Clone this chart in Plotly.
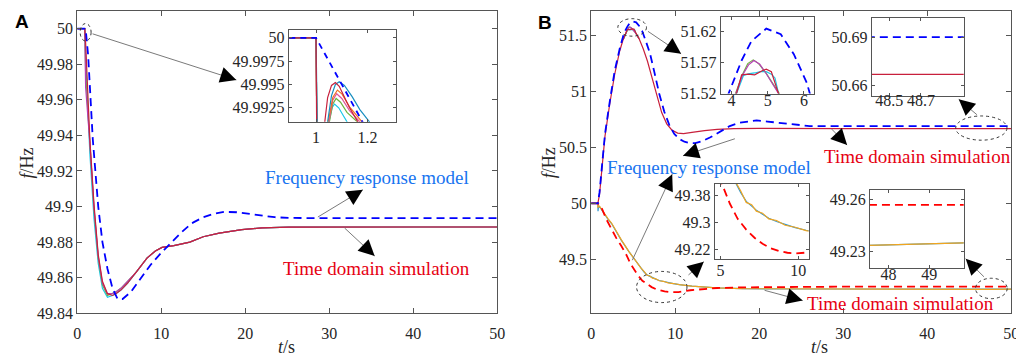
import plotly.graph_objects as go

# ===================== DATA =====================
# ---- Panel A: main plot (t in s, f in Hz) ----
tA = [0, 0.9, 1.0, 1.5, 2.0, 2.5, 3.0, 3.6, 4.2, 4.6, 5.2, 6.0, 7.0, 8.3, 9.3, 10.1,
      11.5, 13.4, 15.0, 16.9, 19.6, 22.0, 25.2, 30, 40, 50]
fA_red = [50, 50, 49.992, 49.938, 49.901, 49.873, 49.858, 49.851, 49.850, 49.851, 49.853, 49.857,
          49.863, 49.871, 49.875, 49.877, 49.878, 49.880, 49.883, 49.885, 49.887, 49.888, 49.8884,
          49.8885, 49.8885, 49.8885]
fA_cyan = [50, 50, 49.985, 49.930, 49.893, 49.868, 49.854, 49.849, 49.850, 49.851, 49.853, 49.857,
           49.863, 49.871, 49.875, 49.877, 49.878, 49.880, 49.883, 49.885, 49.887, 49.888, 49.8884,
           49.8885, 49.8885, 49.8885]
fA_green = [50, 50, 49.975, 49.935, 49.898, 49.871, 49.856, 49.850, 49.851, 49.852, 49.854, 49.858,
            49.863, 49.871, 49.875, 49.877, 49.878, 49.880, 49.883, 49.885, 49.887, 49.888, 49.8884,
            49.8885, 49.8885, 49.8885]
fA_magenta = [50, 50, 49.967, 49.936, 49.899, 49.872, 49.857, 49.851, 49.851, 49.852, 49.854, 49.858,
              49.863, 49.871, 49.875, 49.877, 49.878, 49.880, 49.883, 49.885, 49.887, 49.888, 49.8884,
              49.8885, 49.8885, 49.8885]
tA_frm = [0, 1.0, 1.3, 1.85, 2.5, 3.0, 3.6, 4.2, 4.8, 5.4, 6.4, 7.5, 8.7, 10.0, 11.2, 12.4, 13.6,
          15.0, 16.3, 17.5, 19.0, 20.5, 22.0, 23.5, 25.2, 28, 50]
fA_frm = [50, 50, 49.985, 49.938, 49.900, 49.880, 49.865, 49.854, 49.848, 49.848, 49.852, 49.859,
          49.867, 49.874, 49.880, 49.8855, 49.8905, 49.894, 49.896, 49.897, 49.8968, 49.896,
          49.8948, 49.894, 49.8936, 49.8935, 49.8935]

# ---- Panel A: inset detail around t = 1 s ----
tAi_red = [0.85, 1.0, 1.003, 1.02, 1.034, 1.045, 1.06, 1.075, 1.09, 1.11, 1.13, 1.162, 1.18]
fAi_red = [50, 50, 49.988, 49.986, 49.991, 49.9936, 49.9949, 49.9952, 49.9948, 49.9937, 49.9925, 49.991, 49.9895]
tAi_teal = [0.85, 1.0, 1.006, 1.03, 1.045, 1.06, 1.075, 1.09, 1.11, 1.14, 1.17, 1.207, 1.22]
fAi_teal = [50, 50, 49.988, 49.986, 49.991, 49.9938, 49.9950, 49.9953, 49.9949, 49.9937, 49.9923, 49.991, 49.9898]
tAi_orange = [0.85, 1.0, 1.004, 1.03, 1.047, 1.065, 1.083, 1.10, 1.13, 1.155, 1.178, 1.19]
fAi_orange = [50, 50, 49.988, 49.986, 49.991, 49.9936, 49.9944, 49.9940, 49.9926, 49.9917, 49.991, 49.990]
tAi_magenta = [0.85, 1.0, 1.004, 1.03, 1.05, 1.065, 1.08, 1.10, 1.13, 1.17, 1.18]
fAi_magenta = [50, 50, 49.988, 49.986, 49.991, 49.9933, 49.9940, 49.9935, 49.9922, 49.991, 49.990]
tAi_green = [0.85, 1.0, 1.004, 1.03, 1.052, 1.065, 1.078, 1.095, 1.12, 1.16, 1.17]
fAi_green = [50, 50, 49.988, 49.986, 49.991, 49.9929, 49.9935, 49.9931, 49.9920, 49.991, 49.990]
tAi_cyan = [0.85, 1.0, 1.004, 1.03, 1.05, 1.062, 1.072, 1.088, 1.105, 1.12, 1.13]
fAi_cyan = [50, 50, 49.988, 49.986, 49.991, 49.9925, 49.9929, 49.9925, 49.9917, 49.991, 49.990]

# ---- Panel B: over-frequency case ----
tB_up = [0, 0.8, 1.0, 1.3, 1.65, 2.2, 2.8, 3.4, 3.8, 4.14, 4.28, 4.46, 4.64, 4.86, 4.96, 5.1, 5.27,
         5.33, 5.7, 6.2, 6.7, 7.2, 7.8, 8.4, 9.0, 9.6, 10.3, 11.0, 12.0, 13.5, 15.0, 17.0, 20.0,
         25.0, 30.0, 50.0]
fB_up_red = [50, 50, 50.08, 50.33, 50.6, 50.88, 51.15, 51.36, 51.46, 51.52, 51.55, 51.551, 51.55,
             51.557, 51.559, 51.555, 51.531, 51.52, 51.47, 51.38, 51.27, 51.14, 50.97, 50.81, 50.71,
             50.655, 50.627, 50.622, 50.633, 50.650, 50.660, 50.667, 50.670, 50.668, 50.667, 50.667]
tB_up_green = [3.8, 4.11, 4.3, 4.45, 4.6, 4.75, 4.95, 5.15, 5.32, 5.7]
fB_up_green = [51.46, 51.52, 51.55, 51.568, 51.574, 51.568, 51.553, 51.535, 51.52, 51.47]
tB_up_magenta = [3.8, 4.12, 4.3, 4.47, 4.62, 4.78, 4.97, 5.16, 5.3, 5.7]
fB_up_magenta = [51.46, 51.52, 51.549, 51.566, 51.573, 51.567, 51.551, 51.533, 51.52, 51.47]
tB_up_cyan = [3.8, 4.14, 4.33, 4.5, 4.64, 4.8, 4.96, 5.1, 5.2, 5.3, 5.7]
fB_up_cyan = [51.46, 51.52, 51.549, 51.552, 51.553, 51.555, 51.555, 51.551, 51.545, 51.52, 51.47]
tB_up_frm = [0, 0.8, 1.0, 1.3, 1.65, 2.2, 2.8, 3.4, 3.92, 4.28, 4.55, 4.96, 5.36, 5.72, 6.08, 6.5,
             7.0, 7.5, 8.1, 8.7, 9.3, 9.9, 10.5, 11.1, 11.8, 12.4, 13.2, 14.2, 15.3, 16.5, 17.7,
             18.9, 19.7, 21.0, 22.8, 24.5, 26.0, 30.0, 50.0]
fB_up_frm = [50, 50, 50.1, 50.35, 50.62, 50.9, 51.18, 51.38, 51.52, 51.573, 51.604, 51.624, 51.615,
             51.583, 51.537, 51.45, 51.34, 51.18, 50.98, 50.82, 50.70, 50.62, 50.575, 50.55, 50.538,
             50.537, 50.555, 50.59, 50.64, 50.69, 50.72, 50.735, 50.74, 50.73, 50.715, 50.70, 50.69,
             50.69, 50.69]

# ---- Panel B: under-frequency case ----
tB_lo_frm = [0, 0.8, 1.0, 1.3, 1.8, 2.4, 3.0, 3.6, 4.2, 4.69, 5.1, 5.6, 6.1, 6.65, 7.2, 7.7, 8.2,
             8.75, 9.3, 9.8, 10.4, 11.8, 13.5, 15, 18, 22, 30, 50]
fB_lo_frm = [50, 50, 49.985, 49.95, 49.86, 49.77, 49.69, 49.62, 49.54, 49.46, 49.41, 49.355,
             49.31, 49.278, 49.253, 49.236, 49.223, 49.214, 49.209, 49.207, 49.209, 49.225, 49.238,
             49.245, 49.251, 49.255, 49.257, 49.257]
tB_lo = [0, 0.8, 0.82, 0.86, 1.0, 1.5, 2.0, 2.43, 3.0, 3.6, 4.5, 5.2, 5.94, 6.3, 6.65, 7.0, 7.3,
         7.7, 8.1, 8.6, 9.15, 9.8, 10.5, 12, 14.9, 18, 25, 35, 47.5, 50]
fB_lo_cyan = [50, 50, 49.93, 49.96, 49.97, 49.91, 49.86, 49.82, 49.745, 49.67, 49.57, 49.495, 49.42,
              49.388, 49.362, 49.348, 49.336, 49.324, 49.312, 49.302, 49.293, 49.284, 49.276, 49.262,
              49.246, 49.239, 49.236, 49.235, 49.2337, 49.2352]
fB_lo_orange = [50, 50, 49.96, 49.98, 49.975, 49.915, 49.865, 49.825, 49.75, 49.675, 49.57, 49.495,
                49.422, 49.393, 49.359, 49.352, 49.333, 49.327, 49.310, 49.305, 49.291, 49.285, 49.275,
                49.262, 49.246, 49.239, 49.236, 49.235, 49.2337, 49.2352]

# ---- tick values / labels ----
A_xticks = [0, 10, 20, 30, 40, 50]
A_xlabels = ["0", "10", "20", "30", "40", "50"]
A_yticks = [49.84, 49.86, 49.88, 49.9, 49.92, 49.94, 49.96, 49.98, 50]
A_ylabels = ["49.84", "49.86", "49.88", "49.9", "49.92", "49.94", "49.96", "49.98", "50"]
Ai_xticks = [1, 1.2]
Ai_xlabels = ["1", "1.2"]
Ai_yticks = [49.9925, 49.995, 49.9975, 50]
Ai_ylabels = ["49.9925", "49.995", "49.9975", "50"]
B_xticks = [0, 10, 20, 30, 40, 50]
B_xlabels = ["0", "10", "20", "30", "40", "50"]
B_yticks = [49.5, 50, 50.5, 51, 51.5]
B_ylabels = ["49.5", "50", "50.5", "51", "51.5"]
B1_xticks, B1_xlabels = [4, 5, 6], ["4", "5", "6"]
B1_yticks, B1_ylabels = [51.52, 51.57, 51.62], ["51.52", "51.57", "51.62"]
B2_xticks, B2_xlabels = [48.5, 48.7], ["48.5", "48.7"]
B2_yticks, B2_ylabels = [50.66, 50.69], ["50.66", "50.69"]
B3_xticks, B3_xlabels = [5, 10], ["5", "10"]
B3_yticks, B3_ylabels = [49.22, 49.3, 49.38], ["49.22", "49.3", "49.38"]
B4_xticks, B4_xlabels = [48, 49], ["48", "49"]
B4_yticks, B4_ylabels = [49.23, 49.26], ["49.23", "49.26"]

# ===================== STYLE / LAYOUT =====================
W, H = 1024, 357
SERIF = "Liberation Serif"
C_RED = "#C8203C"
C_BLUE = "#0000FF"
C_RED_D = "#FF0000"
C_ORANGE = "#F2A51E"
C_CYANL = "#2E96D0"
C_CYAN = "#19C8E8"
C_TEAL = "#1A8FC0"
C_GREEN = "#6DB33F"
C_MAG = "#B63FB6"
C_ORG2 = "#F07020"
TXT_BLUE = "#1874F0"
TXT_RED = "#E60012"
AXC = "#555555"
DASH = "8px,5px"

# subplot geometry in pixels: (left, right, top, bottom), ranges, x-label standoff
GEOM = {
    "A":  dict(px=(66, 491, 2, 313), xr=(0, 50), yr=(49.84, 50.01), so=6),
    "Ai": dict(px=(280, 389, 22, 116), xr=(0.894, 1.312), yr=(49.991, 50.0008), so=1),
    "B":  dict(px=(586, 1011, 2, 313), xr=(0, 50), yr=(49.02, 51.717), so=6),
    "B1": dict(px=(717, 812, 8, 87), xr=(3.7, 6.29), yr=(51.52, 51.643), so=-8),
    "B2": dict(px=(870, 963, 9, 89), xr=(48.39, 48.97), yr=(50.654, 50.702), so=-10),
    "B3": dict(px=(711, 806, 180, 257), xr=(4.62, 10.66), yr=(49.191, 49.414), so=-3),
    "B4": dict(px=(868, 963, 186, 266), xr=(47.54, 49.85), yr=(49.221, 49.2656), so=-8),
}
AXID = {"A": ("x", "y"), "Ai": ("x2", "y2"), "B": ("x3", "y3"), "B1": ("x4", "y4"),
        "B2": ("x5", "y5"), "B3": ("x6", "y6"), "B4": ("x7", "y7")}
TICKS = {
    "A": (A_xticks, A_xlabels, A_yticks, A_ylabels),
    "Ai": (Ai_xticks, Ai_xlabels, Ai_yticks, Ai_ylabels),
    "B": (B_xticks, B_xlabels, B_yticks, B_ylabels),
    "B1": (B1_xticks, B1_xlabels, B1_yticks, B1_ylabels),
    "B2": (B2_xticks, B2_xlabels, B2_yticks, B2_ylabels),
    "B3": (B3_xticks, B3_xlabels, B3_yticks, B3_ylabels),
    "B4": (B4_xticks, B4_xlabels, B4_yticks, B4_ylabels),
}

fig = go.Figure()


def add_line(key, x, y, color, width=1.2, dash=None):
    xa, ya = AXID[key]
    fig.add_trace(go.Scatter(x=x, y=y, mode="lines", xaxis=xa, yaxis=ya, showlegend=False,
                             hoverinfo="skip",
                             line=dict(color=color, width=width, dash=dash)))


# Panel A main
add_line("A", tA, fA_cyan, C_CYAN)
add_line("A", tA, fA_green, C_GREEN)
add_line("A", tA, fA_magenta, C_MAG)
add_line("A", tA, fA_red, C_RED)
add_line("A", tA_frm, fA_frm, C_BLUE, 1.8, DASH)
# Panel A inset
add_line("Ai", tAi_cyan, fAi_cyan, C_CYAN)
add_line("Ai", tAi_green, fAi_green, C_GREEN)
add_line("Ai", tAi_magenta, fAi_magenta, "#E0559A")
add_line("Ai", tAi_orange, fAi_orange, C_ORG2)
add_line("Ai", tAi_teal, fAi_teal, C_TEAL)
add_line("Ai", tAi_red, fAi_red, C_RED)
add_line("Ai", tA_frm, fA_frm, C_BLUE, 1.8, "6px,5px")

# Panel B main + insets
for key in ["B", "B1", "B2", "B3", "B4"]:
    add_line(key, tB_lo, fB_lo_cyan, C_CYANL)
    add_line(key, tB_lo, fB_lo_orange, C_ORANGE)
    add_line(key, tB_lo_frm, fB_lo_frm, C_RED_D, 1.8, DASH)
    add_line(key, tB_up_cyan, fB_up_cyan, C_CYAN)
    add_line(key, tB_up_green, fB_up_green, C_GREEN)
    add_line(key, tB_up_magenta, fB_up_magenta, C_MAG)
    add_line(key, tB_up, fB_up_red, C_RED)
    add_line(key, tB_up_frm, fB_up_frm, C_BLUE, 1.8, DASH)

layout = dict(width=W, height=H, margin=dict(l=0, r=0, t=0, b=0),
              paper_bgcolor="white", plot_bgcolor="white", showlegend=False,
              font=dict(family=SERIF),
              annotations=[], shapes=[])

for key, g in GEOM.items():
    L, R, T, B = g["px"]
    xa, ya = AXID[key]
    xt, xl, yt, yl = TICKS[key]
    main = key in ("A", "B")
    common = dict(showline=True, linecolor=AXC, linewidth=1, mirror="ticks", ticks="inside",
                  ticklen=5 if main else 3, tickcolor=AXC, showgrid=False, zeroline=False,
                  tickfont=dict(family=SERIF, size=16, color="#262626"), fixedrange=True)
    xname = "xaxis" if xa == "x" else "xaxis" + xa[1:]
    yname = "yaxis" if ya == "y" else "yaxis" + ya[1:]
    layout[xname] = dict(common, domain=[L / W, R / W], range=list(g["xr"]), anchor=ya,
                         tickmode="array", tickvals=xt, ticktext=xl, ticklabelstandoff=g["so"])
    layout[yname] = dict(common, domain=[1 - B / H, 1 - T / H], range=list(g["yr"]), anchor=xa,
                         tickmode="array", tickvals=yt, ticktext=yl)


def to_px(key, x, y):
    g = GEOM[key]
    L, R, T, B = g["px"]
    x0, x1 = g["xr"]
    y0, y1 = g["yr"]
    return L + (x - x0) / (x1 - x0) * (R - L), B - (y - y0) / (y1 - y0) * (B - T)


def arrow(key, start, tip):
    xa, ya = AXID[key]
    layout["annotations"].append(dict(
        x=tip[0], y=tip[1], ax=start[0], ay=start[1], xref=xa, yref=ya, axref=xa, ayref=ya,
        text="", showarrow=True, arrowhead=0, arrowwidth=1, arrowcolor="#7a7a7a"))
    sx, sy = to_px(key, *start)
    tx, ty = to_px(key, *tip)
    dx, dy = sx - tx, sy - ty
    n = (dx * dx + dy * dy) ** 0.5
    layout["annotations"].append(dict(
        x=tip[0], y=tip[1], ax=dx / n * 11, ay=dy / n * 11, xref=xa, yref=ya,
        text="", showarrow=True, arrowhead=2, arrowsize=3.2, arrowwidth=1, arrowcolor="black",
        standoff=0))


def ellipse(key, x0, x1, y0, y1):
    xa, ya = AXID[key]
    layout["shapes"].append(dict(type="circle", xref=xa, yref=ya, x0=x0, x1=x1, y0=y0, y1=y1,
                                 line=dict(color="#333333", width=1, dash="dot"), layer="above"))


def label(key, x, y, text, color):
    xa, ya = AXID[key]
    layout["annotations"].append(dict(x=x, y=y, xref=xa, yref=ya, text=text, showarrow=False,
                                      font=dict(family=SERIF, size=19, color=color)))


# Panel A decorations
ellipse("A", 0.35, 1.65, 49.9931, 50.0029)
arrow("A", (1.65, 49.9974), (18.94, 49.9712))
label("A", 34.53, 49.9165, "Frequency response model", TXT_BLUE)
arrow("A", (28.47, 49.8936), (34.0, 49.9094))
label("A", 35.65, 49.8651, "Time domain simulation", TXT_RED)
arrow("A", (31.65, 49.8887), (35.41, 49.8722))

# Panel B decorations
ellipse("B", 3.18, 6.59, 51.492, 51.648)
arrow("B", (6.59, 51.544), (10.71, 51.335))
ellipse("B", 43.4, 49.5, 50.564, 50.780)
arrow("B", (46.1, 50.780), (43.76, 50.928))
label("B", 14.0, 50.321, "Frequency response model", TXT_BLUE)
arrow("B", (17.29, 50.581), (10.94, 50.425))
arrow("B", (4.82, 49.480), (9.65, 50.260))
label("B", 38.82, 50.416, "Time domain simulation", TXT_RED)
arrow("B", (28.47, 50.676), (30.47, 50.520))
ellipse("B", 5.41, 11.41, 49.115, 49.393)
arrow("B", (11.41, 49.350), (13.41, 49.480))
ellipse("B", 45.76, 49.53, 49.150, 49.332)
arrow("B", (46.94, 49.332), (44.59, 49.506))
label("B", 36.82, 49.107, "Time domain simulation", TXT_RED)
arrow("B", (20.47, 49.228), (25.18, 49.133))


# axis titles and panel letters (paper coords from pixels)
def paper_text(px, py, text, size, family=SERIF, angle=0, color="#262626"):
    layout["annotations"].append(dict(x=px / W, y=1 - py / H, xref="paper", yref="paper",
                                      text=text, showarrow=False, textangle=angle,
                                      xanchor="center", yanchor="middle",
                                      font=dict(family=family, size=size, color=color)))


paper_text(15, 158, "<i>f</i>/Hz", 18, angle=-90)
paper_text(543, 158, "<i>f</i>/Hz", 18, angle=-90)
paper_text(278, 348, "<i>t</i>/s", 18)
paper_text(817, 348, "<i>t</i>/s", 18)
paper_text(10, 13, "<b>A</b>", 19, family="Liberation Sans", color="black")
paper_text(539, 14, "<b>B</b>", 19, family="Liberation Sans", color="black")

fig.update_layout(**layout)
fig.write_html("out.html")
